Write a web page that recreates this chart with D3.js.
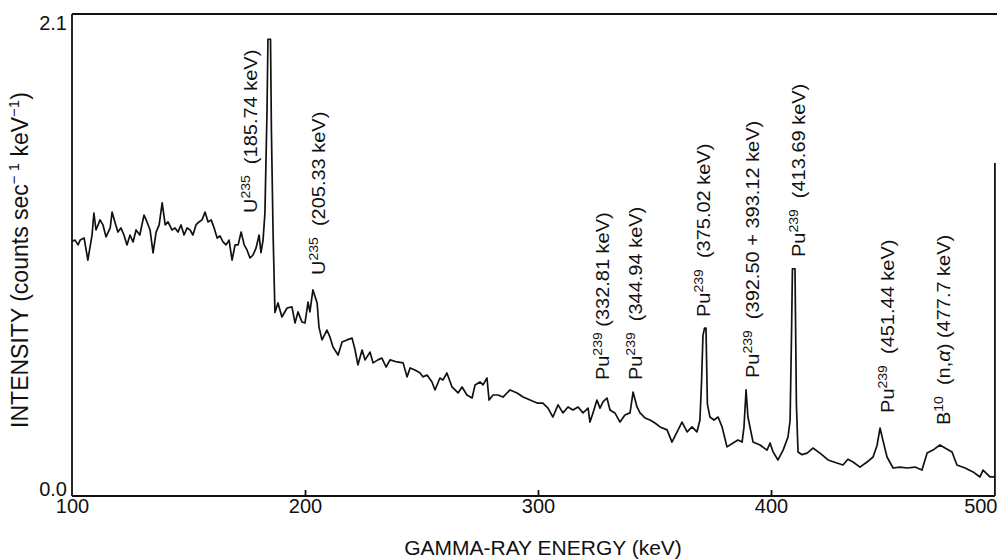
<!DOCTYPE html>
<html>
<head>
<meta charset="utf-8">
<script src="https://cdn.jsdelivr.net/npm/d3@7"></script>
<style>
  body { margin: 0; background: #fff; }
  text { font-family: "Liberation Sans", Arial, Helvetica, sans-serif; fill: #111; }
</style>
</head>
<body>
<svg id="spectrum" width="997" height="559"></svg>
<script>
// ------- Data ------
// [energy keV, intensity counts/sec/keV]
const spectrum = [
  [100.0, 1.11], [101.3, 1.115], [102.6, 1.094], [103.5, 1.115], [105.2, 1.124], [106.8, 1.028],
  [108.6, 1.137], [109.4, 1.233], [110.3, 1.159], [111.2, 1.181], [112.0, 1.203], [113.3, 1.181],
  [114.6, 1.129], [116.4, 1.168], [117.2, 1.237], [118.4, 1.194], [119.7, 1.150], [121.0, 1.168],
  [122.3, 1.137], [123.6, 1.094], [124.9, 1.137], [126.2, 1.107], [127.5, 1.159], [129.1, 1.137],
  [130.9, 1.224], [132.2, 1.194], [133.5, 1.159], [134.8, 1.059], [136.1, 1.150], [137.4, 1.181],
  [138.7, 1.277], [140.0, 1.181], [141.2, 1.194], [142.9, 1.159], [144.2, 1.168], [145.5, 1.150],
  [146.8, 1.181], [148.1, 1.137], [149.4, 1.168], [150.7, 1.159], [151.9, 1.137], [153.2, 1.181],
  [154.5, 1.194], [155.8, 1.203], [157.1, 1.237], [158.4, 1.194], [159.7, 1.203], [161.0, 1.168],
  [162.3, 1.124], [163.5, 1.133], [164.8, 1.107], [166.1, 1.094], [167.4, 1.115], [168.7, 1.028],
  [170.0, 1.094], [171.3, 1.094], [172.6, 1.150], [173.9, 1.094], [175.1, 1.072], [176.4, 1.037],
  [177.7, 1.050], [179.0, 1.081], [180.3, 1.137],
  // U235 185.74
  [181.1, 1.06], [182.0, 1.115], [182.8, 1.233], [183.7, 1.68], [184.1, 1.99], [185.2, 1.99],
  [185.6, 1.58], [186.3, 1.146], [187.1, 0.80],
  [188.4, 0.841], [190.1, 0.780], [192.3, 0.819], [194.4, 0.824], [195.7, 0.754], [197.0, 0.802],
  [198.7, 0.758], [200.0, 0.754], [201.3, 0.845], [202.1, 0.802], [203.4, 0.898], [205.2, 0.841],
  [206.0, 0.736], [207.3, 0.680], [209.4, 0.723], [210.7, 0.693], [212.0, 0.649], [214.2, 0.614],
  [215.9, 0.671], [218.0, 0.680], [220.2, 0.688], [221.5, 0.636], [222.7, 0.571], [224.5, 0.636],
  [225.8, 0.593], [227.9, 0.627], [229.2, 0.580], [231.3, 0.593], [233.0, 0.601], [234.8, 0.562],
  [236.5, 0.593], [239.5, 0.584], [242.1, 0.580], [243.8, 0.519], [245.1, 0.558], [247.2, 0.549],
  [249.4, 0.536], [250.6, 0.519], [252.4, 0.527], [254.5, 0.497], [255.8, 0.462], [257.9, 0.514],
  [259.2, 0.505], [260.9, 0.536], [263.1, 0.475], [265.7, 0.449], [267.4, 0.475], [269.5, 0.440],
  [271.7, 0.427], [273.0, 0.484], [275.1, 0.497], [276.4, 0.484], [278.1, 0.514], [279.0, 0.418],
  [280.7, 0.440], [282.8, 0.440], [285.0, 0.431], [287.1, 0.453], [288.0, 0.462], [291.0, 0.449],
  [293.6, 0.431], [296.6, 0.418], [299.6, 0.405], [302.1, 0.405], [304.3, 0.383], [306.4, 0.344],
  [308.6, 0.397], [310.7, 0.362], [312.9, 0.388], [315.0, 0.375], [317.2, 0.388], [319.3, 0.362],
  [321.5, 0.383], [322.3, 0.322], [323.6, 0.362], [325.3, 0.418], [326.6, 0.383], [327.9, 0.410],
  [329.6, 0.427], [330.9, 0.375], [333.0, 0.362], [335.2, 0.322], [337.3, 0.353], [339.5, 0.362],
  [340.8, 0.453], [342.5, 0.388], [343.8, 0.362], [345.9, 0.340], [348.1, 0.331], [350.2, 0.318],
  [352.4, 0.301], [355.4, 0.288], [357.5, 0.235], [359.7, 0.279], [361.8, 0.322], [364.0, 0.279],
  [366.1, 0.301], [368.2, 0.279], [369.5, 0.331],
  // Pu239 375.02
  [370.2, 0.50], [370.8, 0.70], [371.5, 0.732], [372.1, 0.732], [372.7, 0.40],
  [373.8, 0.344], [375.5, 0.331], [377.3, 0.344], [379.0, 0.301], [381.1, 0.214], [383.7, 0.231],
  [385.8, 0.244], [387.6, 0.235],
  // Pu239 392.50 + 393.12
  [388.4, 0.30], [389.3, 0.462], [390.1, 0.344],
  [392.3, 0.235], [395.3, 0.222], [398.3, 0.200], [399.6, 0.231], [400.9, 0.192], [403.0, 0.157],
  [405.2, 0.200], [407.3, 0.257],
  // Pu239 413.69
  [408.2, 0.33], [408.8, 0.70], [409.2, 0.99], [410.3, 0.99], [410.9, 0.40], [411.6, 0.192],
  [413.3, 0.18], [415.5, 0.187], [418.0, 0.209], [421.0, 0.187], [424.5, 0.157], [428.3, 0.144],
  [430.9, 0.135], [433.0, 0.16], [435.2, 0.148], [438.2, 0.126], [441.2, 0.148], [443.8, 0.170],
  // Pu239 451.44
  [445.5, 0.22], [446.8, 0.296], [448.1, 0.24],
  [449.8, 0.170], [452.4, 0.122], [455.4, 0.126], [458.4, 0.122], [461.8, 0.126], [464.8, 0.113],
  [467.0, 0.187], [469.5, 0.200], [472.5, 0.222], [474.7, 0.209], [477.7, 0.192], [479.8, 0.135],
  [483.3, 0.122], [486.7, 0.105], [489.7, 0.083], [491.0, 0.113], [494.0, 0.083], [496.1, 0.083]
];

const xTicks = [100, 200, 300, 400, 500];
const yTicks = [0, 2.1];

// peak annotations
const labelNuclide = ["U", "U", "Pu", "Pu", "Pu", "Pu", "Pu", "Pu", "B"];
const labelMass = ["235", "235", "239", "239", "239", "239", "239", "239", "10"];
const labelText = ["  (185.74 keV)", "  (205.33 keV)", " (332.81 keV)", "  (344.94 keV)", "  (375.02 keV)",
  "  (392.50 + 393.12 keV)", "  (413.69 keV)", "  (451.44 keV)", "  (n,α) (477.7 keV)"];
const labelKeV = [179.4, 208.6, 330.5, 344.6, 373.8, 394.8, 414.6, 452.8, 476.8];
const labelBase = [1.233, 0.963, 0.505, 0.505, 0.780, 0.514, 1.041, 0.362, 0.309];

// ------- Layout ------
const svg = d3.select("#spectrum");
const width = +svg.attr("width");
const margin = { top: 14, left: 72, bottom: 63 };
const plotBottom = +svg.attr("height") - margin.bottom;

const x = d3.scaleLinear().domain([100, 500]).range([margin.left, 1004]);
const y = d3.scaleLinear().domain([0, 2.1]).range([plotBottom, margin.top]);
const xEnd = x(d3.max(spectrum, d => d[0]));

// frame
const frame = svg.append("g").attr("stroke", "#111").attr("stroke-width", 1.8).attr("fill", "none");
frame.append("line").attr("x1", margin.left).attr("x2", width).attr("y1", margin.top).attr("y2", margin.top);
frame.append("line").attr("x1", margin.left).attr("x2", margin.left).attr("y1", margin.top).attr("y2", plotBottom);
frame.append("line").attr("x1", margin.left).attr("x2", xEnd).attr("y1", plotBottom).attr("y2", plotBottom);
frame.append("line").attr("x1", xEnd).attr("x2", xEnd).attr("y1", 163).attr("y2", plotBottom);

// x axis
const xAxis = svg.append("g")
  .attr("transform", `translate(0,${plotBottom})`)
  .call(d3.axisBottom(x).tickValues(xTicks).tickSize(-6).tickPadding(3).tickFormat(d3.format("d")));
xAxis.select(".domain").remove();
xAxis.selectAll(".tick line").attr("stroke", "#111").attr("stroke-width", 1.8)
  .filter(d => d === 100 || d === 500).remove();
xAxis.selectAll(".tick text").attr("font-size", "20px").attr("fill", "#111")
  .style("font-family", "'Liberation Sans', Arial, sans-serif");
xAxis.selectAll(".tick").filter(d => d === 500).select("text")
  .attr("text-anchor", "end").attr("x", width - x(500));

// y axis
const yAxis = svg.append("g")
  .attr("transform", `translate(${margin.left},0)`)
  .call(d3.axisLeft(y).tickValues(yTicks).tickSize(0).tickPadding(5).tickFormat(d3.format(".1f")));
yAxis.select(".domain").remove();
yAxis.selectAll(".tick text").attr("font-size", "20px").attr("fill", "#111")
  .style("font-family", "'Liberation Sans', Arial, sans-serif")
  .attr("dy", d => d === 0 ? "-0.05em" : "0.75em");

// axis titles
svg.append("text")
  .attr("x", 543).attr("y", 555)
  .attr("text-anchor", "middle")
  .attr("font-size", "21px")
  .text("GAMMA-RAY ENERGY (keV)");

const yTitle = svg.append("text")
  .attr("transform", "translate(28,260) rotate(-90)")
  .attr("text-anchor", "middle")
  .attr("font-size", "23px");
yTitle.append("tspan").text("INTENSITY (counts sec");
yTitle.append("tspan").attr("font-size", "15px").attr("dy", -9).text("− 1");
yTitle.append("tspan").attr("dy", 9).text(" keV");
yTitle.append("tspan").attr("font-size", "15px").attr("dy", -9).text("−1");
yTitle.append("tspan").attr("dy", 9).text(")");

// ------- Spectrum ------
const line = d3.line().x(d => x(d[0])).y(d => y(d[1]));
svg.append("path")
  .datum(spectrum)
  .attr("fill", "none")
  .attr("stroke", "#111")
  .attr("stroke-width", 1.7)
  .attr("stroke-linejoin", "round")
  .attr("d", line);

// ------- Peak labels ------
labelNuclide.forEach((nuc, i) => {
  const t = svg.append("text")
    .attr("transform", `translate(${x(labelKeV[i])},${y(labelBase[i])}) scale(0.9,1) rotate(-90)`)
    .attr("font-size", "20px")
    .style("white-space", "pre");
  t.append("tspan").text(nuc);
  t.append("tspan").attr("font-size", "14px").attr("dy", -8).text(labelMass[i]);
  const parts = labelText[i].split("α");
  t.append("tspan").attr("dy", 8).text(parts[0]);
  if (parts.length > 1) {
    t.append("tspan").attr("font-style", "italic").text("α");
    t.append("tspan").text(parts[1]);
  }
});
</script>
</body>
</html>
